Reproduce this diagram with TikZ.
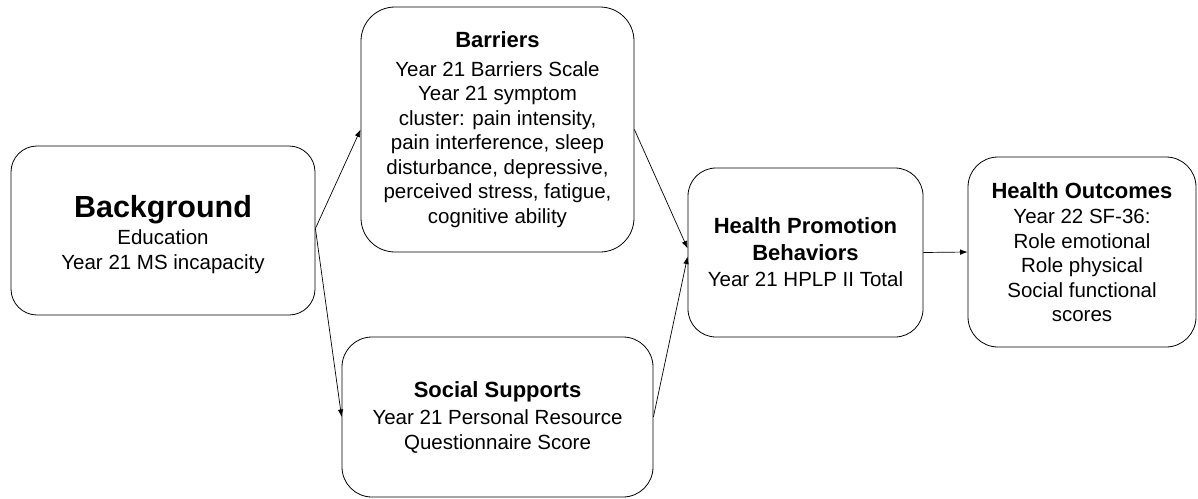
\documentclass[tikz,border=0pt]{standalone}
\usepackage{fontspec}
\setmainfont{Liberation Sans}
\usetikzlibrary{arrows.meta}
\begin{document}
\begin{tikzpicture}[x=1pt,y=-1pt,
  box/.style={draw, line width=0.8pt, rounded corners=#1, align=center, inner sep=0pt,
    font=\fontsize{20.5}{24.5}\selectfont},
  box/.default=28pt,
  conn/.style={line width=0.7pt, -{Latex[length=7.5pt,width=5.5pt]}}]
\useasboundingbox (0,0) rectangle (1198,498);
\newcommand{\ttlfont}{\fontsize{22}{25}\selectfont\bfseries}
\node[box=26pt, minimum width=304pt, minimum height=169pt] (bg) at (163,230.5)
  {{\fontsize{30.5}{32}\selectfont\bfseries\rule{0pt}{30pt}Background}\\[3pt] Education\\ Year 21 MS incapacity};
\node[box=34pt, minimum width=273pt, minimum height=245pt] (bar) at (497.5,129.5)
  {{\ttlfont Barriers}\\[4pt] Year 21 Barriers Scale\\ Year 21 symptom\\ cluster: pain intensity,\\ pain interference, sleep\\ disturbance, depressive,\\ perceived stress, fatigue,\\ cognitive ability};
\node[box=30pt, minimum width=311pt, minimum height=160pt] (soc) at (497.5,417)
  {{\ttlfont Social Supports}\\[3pt] Year 21 Personal Resource\\ Questionnaire Score};
\node[box=28pt, minimum width=235pt, minimum height=169pt] (hpb) at (805.5,252.5)
  {{\ttlfont Health Promotion}\\[2pt] {\ttlfont Behaviors}\\[2pt] Year 21 HPLP II Total};
\node[box=30pt, minimum width=228pt, minimum height=190pt] (ho) at (1082,252)
  {{\ttlfont Health Outcomes}\\[1pt] Year 22 SF-36:\\ Role emotional\\ Role physical\\ Social functional\\ scores};
\draw[conn] ([yshift=2pt]bg.east) -- (bar.west);
\draw[conn] ([yshift=2pt]bg.east) -- (soc.west);
\draw[conn] (bar.east) -- ([yshift=4pt]hpb.west);
\draw[conn] (soc.east) -- ([yshift=-4pt]hpb.west);
\draw[conn] (hpb.east) -- (ho.west);
\end{tikzpicture}
\end{document}
